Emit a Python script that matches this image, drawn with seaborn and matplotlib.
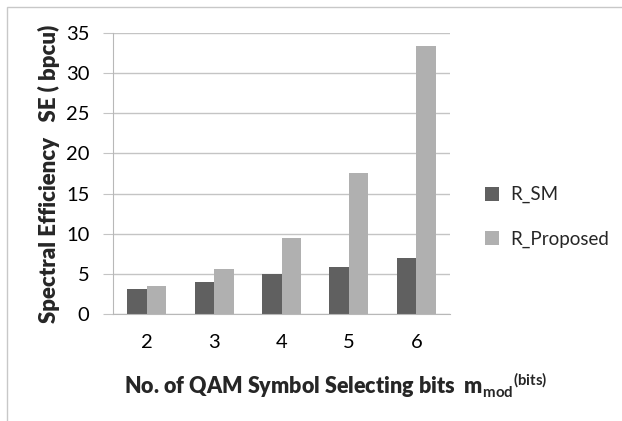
import pandas as pd
import numpy as np
import matplotlib
matplotlib.use("Agg")
import matplotlib.pyplot as plt
import seaborn as sns

# values
m_bits = ["2", "3", "4", "5", "6"]
r_sm = [3.1, 4.0, 5.0, 5.9, 7.0]
r_proposed = [3.45, 5.6, 9.5, 17.5, 33.4]

df = pd.DataFrame({"m": m_bits * 2,
                   "SE": r_sm + r_proposed,
                   "series": ["R_SM"] * 5 + ["R_Proposed"] * 5})

sns.set_style("white")
plt.rcParams['font.family'] = ['Lato', 'DejaVu Sans']
plt.rcParams['mathtext.fontset'] = 'custom'
plt.rcParams['mathtext.rm'] = 'Lato'
plt.rcParams['mathtext.bf'] = 'Lato:bold'

fig = plt.figure(figsize=(6.22, 4.21), dpi=100)
ax = fig.add_axes([0.1817, 0.2542, 0.5418, 0.6674])

# chart border (left and top visible)
fig.patches.append(plt.Rectangle((7 / 622, -0.1), 1.2, 1.1 - 7 / 421,
                                 transform=fig.transFigure, fill=False,
                                 edgecolor="#c8c8c8", linewidth=1.0))

sns.barplot(data=df, x="m", y="SE", hue="series",
            palette=["#606060", "#b0b0b0"], width=0.58, ax=ax,
            edgecolor="none", legend=True)

ax.set_ylim(0, 35)
ax.set_yticks(range(0, 36, 5))
ax.yaxis.grid(True, color="#c4c4c4", linewidth=1.0)
ax.set_axisbelow(True)
for s in ["top", "right"]:
    ax.spines[s].set_visible(False)
ax.spines["left"].set_color("#b8b8b8")
ax.spines["bottom"].set_color("#b8b8b8")
ax.tick_params(axis="y", left=True, length=7, color="#c4c4c4", labelsize=14.5, pad=10,
               labelcolor="black")
ax.tick_params(axis="x", bottom=False, labelsize=14.5, pad=11, labelcolor="black")

ax.set_ylabel("Spectral Efficiency   SE ( bpcu)", fontsize=16,
              fontweight="heavy", labelpad=4)
ax.set_xlabel(r"No. of QAM Symbol Selecting bits  m$_{\mathbf{mod}}$$^{\mathbf{(bits)}}$",
              fontsize=15.5, fontweight="heavy")
ax.xaxis.set_label_coords(0.66, -0.2)

leg = ax.legend(loc="center left", bbox_to_anchor=(1.055, 0.345), frameon=False,
                fontsize=13.5, handlelength=0.75, handleheight=0.75,
                labelspacing=1.45, handletextpad=0.55)

fig.savefig("out.png", dpi=100)
